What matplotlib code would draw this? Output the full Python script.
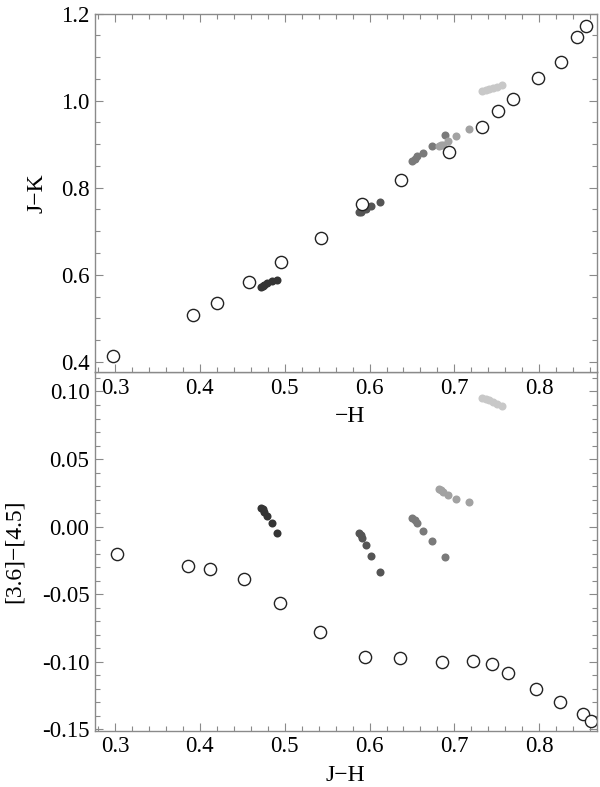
import matplotlib.pyplot as plt
import numpy as np
from matplotlib.ticker import MultipleLocator, FormatStrFormatter

plt.rcParams['font.family'] = ['Liberation Serif', 'DejaVu Serif']

# open circles (model sequence)
jh_top = [0.298, 0.392, 0.420, 0.458, 0.496, 0.543, 0.591, 0.637, 0.694, 0.732, 0.751, 0.769, 0.798, 0.826, 0.845, 0.855]
jk_top = [0.414, 0.507, 0.535, 0.583, 0.629, 0.685, 0.762, 0.817, 0.883, 0.939, 0.976, 1.004, 1.051, 1.088, 1.145, 1.172]
jh_bot = [0.302, 0.386, 0.412, 0.452, 0.495, 0.542, 0.595, 0.636, 0.685, 0.722, 0.744, 0.763, 0.796, 0.824, 0.851, 0.861]
irac_bot = [-0.020, -0.0295, -0.0317, -0.0386, -0.0567, -0.0777, -0.0968, -0.0973, -0.100, -0.0993, -0.102, -0.1084, -0.120, -0.130, -0.1389, -0.1438]

# filled dot groups, dark to light
group_colors = ['#353535', '#555555', '#7a7a7a', '#a2a2a2', '#c8c8c8']
group_jh = [
    [0.472, 0.474, 0.476, 0.479, 0.485, 0.491],
    [0.588, 0.590, 0.591, 0.596, 0.602, 0.612],
    [0.650, 0.653, 0.656, 0.663, 0.673, 0.689],
    [0.682, 0.684, 0.686, 0.693, 0.702, 0.717],
    [0.733, 0.737, 0.741, 0.745, 0.750, 0.756],
]
group_jk = [
    [0.572, 0.574, 0.577, 0.580, 0.585, 0.589],
    [0.743, 0.745, 0.748, 0.752, 0.757, 0.767],
    [0.861, 0.866, 0.872, 0.879, 0.895, 0.921],
    [0.895, 0.897, 0.899, 0.907, 0.918, 0.934],
    [1.023, 1.025, 1.027, 1.029, 1.032, 1.035],
]
group_irac = [
    [0.014, 0.013, 0.011, 0.008, 0.003, -0.005],
    [-0.0049, -0.006, -0.0086, -0.0136, -0.0217, -0.0333],
    [0.0065, 0.005, 0.0030, -0.003, -0.0106, -0.0222],
    [0.0277, 0.0268, 0.0259, 0.0235, 0.0207, 0.0185],
    [0.095, 0.0945, 0.094, 0.0925, 0.0905, 0.089],
]

fig = plt.figure(figsize=(6, 7.87), dpi=100)
ax_bot = fig.add_axes([95/600, 1 - 730.7/787, 502/600, 358.4/787])
ax_top = fig.add_axes([95/600, 1 - 372.3/787, 502/600, 358.8/787])
ax_bot.patch.set_visible(False)

frame_col = '#8a8a8a'
for ax in (ax_top, ax_bot):
    for s in ax.spines.values():
        s.set_color(frame_col)
        s.set_linewidth(1.0)
    ax.set_xlim(0.2765, 0.868)
    ax.xaxis.set_major_locator(MultipleLocator(0.1))
    ax.xaxis.set_minor_locator(MultipleLocator(0.02))
    ax.xaxis.set_major_formatter(FormatStrFormatter('%.1f'))
    ax.tick_params(which='both', direction='in', color=frame_col, labelsize=16.5, pad=4)
    ax.tick_params(which='major', length=6, width=0.8)
    ax.tick_params(which='minor', length=3.5, width=0.8)

ax_top.tick_params(which='both', top=True, right=True)
ax_bot.tick_params(which='both', top=False, right=True)

# top panel
ax_top.set_ylim(0.376, 1.2)
ax_top.yaxis.set_major_locator(MultipleLocator(0.2))
ax_top.yaxis.set_minor_locator(MultipleLocator(0.05))
ax_top.yaxis.set_major_formatter(FormatStrFormatter('%.1f'))
for c, xs, ys in zip(group_colors, group_jh, group_jk):
    ax_top.plot(xs, ys, 'o', color=c, ms=5.8, mec='none')
ax_top.plot(jh_top, jk_top, 'o', mfc='white', mec='#222222', ms=8.8, mew=1.0)
ax_top.set_ylabel('J\u2212K', fontsize=17)
ax_top.yaxis.set_label_coords(-0.095, 0.5)
ax_top.set_xlabel('\u2212H', fontsize=17)
ax_top.xaxis.set_label_coords(0.508, -0.095)

# bottom panel
ax_bot.set_ylim(-0.1511, 0.1142)
ax_bot.yaxis.set_major_locator(MultipleLocator(0.05))
ax_bot.yaxis.set_minor_locator(MultipleLocator(0.01))
ax_bot.yaxis.set_major_formatter(FormatStrFormatter('%.2f'))
for c, xs, ys in zip(group_colors, group_jh, group_irac):
    ax_bot.plot(xs, ys, 'o', color=c, ms=5.8, mec='none')
ax_bot.plot(jh_bot, irac_bot, 'o', mfc='white', mec='#222222', ms=8.8, mew=1.0)
ax_bot.set_ylabel('[3.6]\u2212[4.5]', fontsize=17)
ax_bot.yaxis.set_label_coords(-0.14, 0.5)
ax_bot.set_xlabel('J\u2212H', fontsize=17)
ax_bot.xaxis.set_label_coords(0.498, -0.095)

fig.savefig('out.png', dpi=100)
